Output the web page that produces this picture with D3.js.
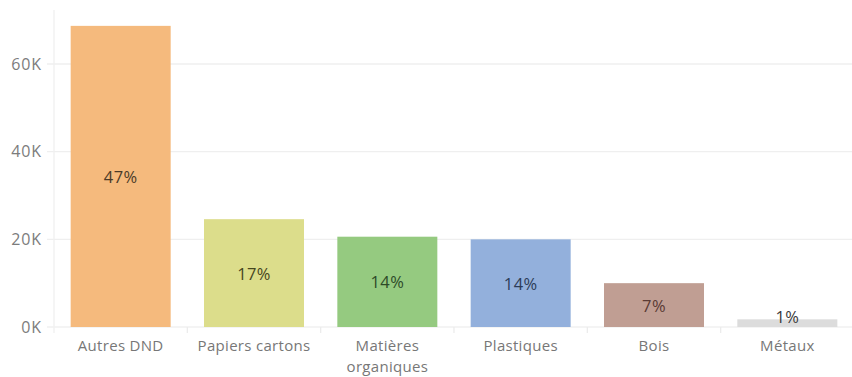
<!DOCTYPE html>
<html>
<head>
<meta charset="utf-8">
<script src="https://cdn.jsdelivr.net/npm/d3@7"></script>
<style>
  html, body { margin: 0; padding: 0; background: #fff; }
  svg { display: block; }
  text { font-family: "Open Sans", sans-serif; }
</style>
</head>
<body>
<svg id="chart" width="852" height="377"></svg>
<script>
const categories = ["Autres DND", "Papiers cartons", "Matières organiques", "Plastiques", "Bois", "Métaux"];
const values = [68700, 24600, 20600, 20000, 10000, 1750];
const percentLabels = ["47%", "17%", "14%", "14%", "7%", "1%"];
const yTicks = [0, 20000, 40000, 60000];
const palette = ["#f5ba7d", "#dcdd8b", "#95ca80", "#93b0dc", "#c09e93", "#dcdcdc"];
const labelColors = ["#4b3a28", "#46461e", "#2d4a28", "#2c3c58", "#5a3a34", "#3a3a3a"];

(function () {
const svg = d3.select("#chart");
const W = 852;
const mLeft = 54, mRight = 854, mTop = 10, mBottom = 327;

const x = d3.scaleBand().domain(categories).range([mLeft, mRight]).paddingInner(0.25).paddingOuter(0.125);
const y = d3.scaleLinear().domain([0, 60000]).range([mBottom, 64]);

const grid = svg.append("g");
grid.selectAll("line.h").data(yTicks.filter(d => d > 0)).join("line")
  .attr("x1", mLeft - 7).attr("x2", W)
  .attr("y1", d => y(d)).attr("y2", d => y(d))
  .attr("stroke", "#efefef").attr("stroke-width", 1.3);
grid.append("line").attr("x1", mLeft).attr("x2", mLeft).attr("y1", mTop).attr("y2", mBottom + 6)
  .attr("stroke", "#f0f0f0").attr("stroke-width", 1.3);
grid.append("line").attr("x1", mLeft - 7).attr("x2", W).attr("y1", mBottom).attr("y2", mBottom)
  .attr("stroke", "#f0f0f0").attr("stroke-width", 1.3);
const seps = categories.slice(1).map(c => x(c) - x.step() * x.paddingInner() / 2);
grid.selectAll("line.sep").data(seps).join("line")
  .attr("x1", d => d).attr("x2", d => d).attr("y1", mBottom).attr("y2", mBottom + 6)
  .attr("stroke", "#ececec").attr("stroke-width", 1.3);

const yAxis = d3.axisLeft(y).tickValues(yTicks).tickFormat(d => (d / 1000) + "K").tickSize(0).tickPadding(12);
const yg = svg.append("g").attr("transform", `translate(${mLeft},0)`).call(yAxis);
yg.select(".domain").remove();
yg.selectAll("text").attr("font-size", 16).attr("letter-spacing", 0.9).attr("fill", "#7c7c7c")
  .attr("font-family", "Open Sans, sans-serif");

svg.append("g").selectAll("rect").data(categories).join("rect")
  .attr("x", d => x(d)).attr("width", x.bandwidth())
  .attr("y", (d, i) => y(values[i]))
  .attr("height", (d, i) => y(0) - y(values[i]))
  .attr("fill", (d, i) => palette[i]);

svg.append("g").selectAll("text").data(categories).join("text")
  .attr("x", d => x(d) + x.bandwidth() / 2)
  .attr("y", (d, i) => Math.min((y(values[i]) + y(0)) / 2, y(0) - 11))
  .attr("text-anchor", "middle").attr("dominant-baseline", "central")
  .attr("font-size", 16.5).attr("letter-spacing", 0.4).attr("fill", (d, i) => labelColors[i])
  .text((d, i) => percentLabels[i]);

const xAxis = d3.axisBottom(x).tickSize(0).tickPadding(13.5);
const xg = svg.append("g").attr("transform", `translate(0,${mBottom})`).call(xAxis);
xg.select(".domain").remove();
xg.selectAll("text").attr("font-size", 15).attr("letter-spacing", 0.3).attr("fill", "#777777")
  .attr("font-family", "Open Sans, sans-serif")
  .each(function (d) {
    const t = d3.select(this);
    if (d === "Matières organiques") {
      t.text(null);
      t.append("tspan").attr("x", 0).attr("dy", "0.71em").text("Matières");
      t.append("tspan").attr("x", 0).attr("dy", "1.375em").text("organiques");
      t.attr("dy", null);
    }
  });
})();
</script>
</body>
</html>
